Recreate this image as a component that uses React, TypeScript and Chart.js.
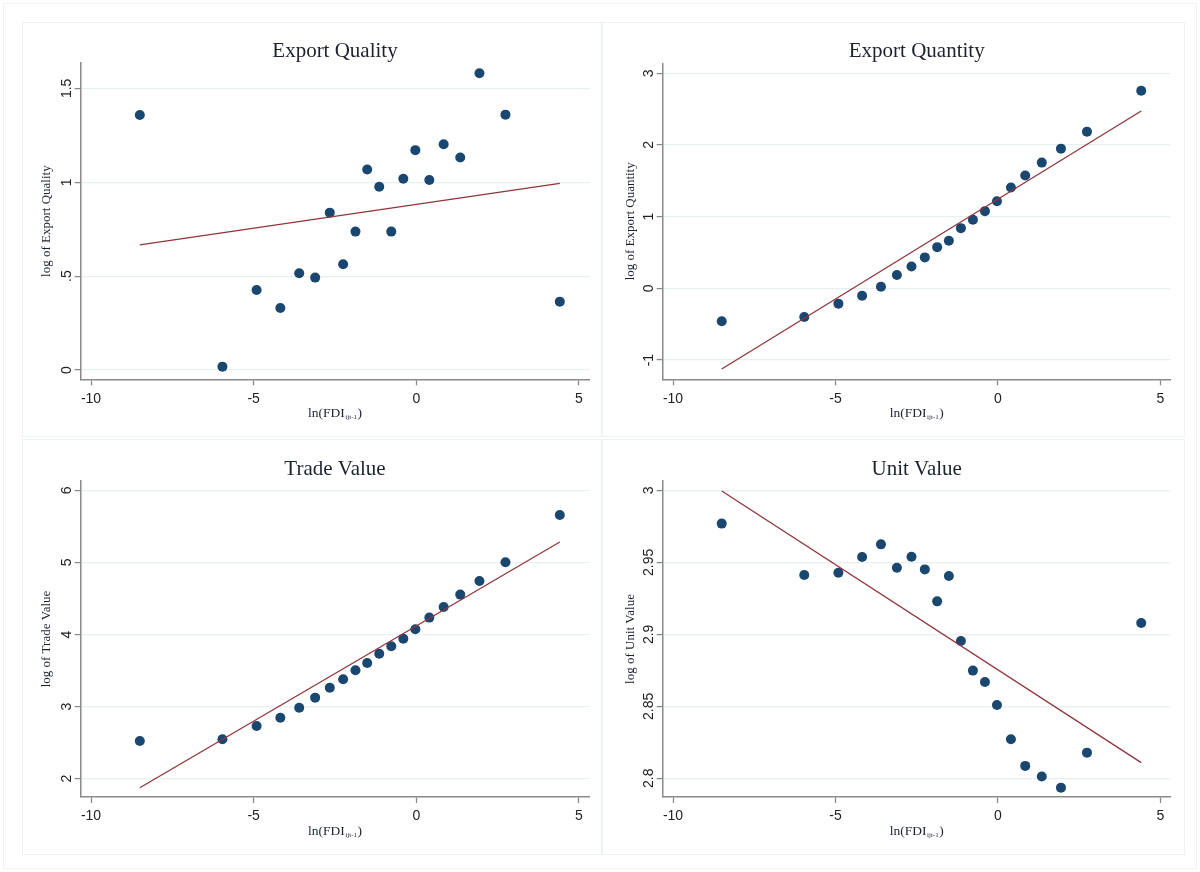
import React, { useEffect, useRef } from "react";
import { Chart, registerables } from "chart.js";

Chart.register(...registerables);

// ---------- data ----------
const fdiBins = [-8.5, -5.96, -4.91, -4.18, -3.6, -3.11, -2.66, -2.25, -1.87, -1.51, -1.14, -0.77, -0.4, -0.03, 0.4, 0.84, 1.35, 1.94, 2.74, 4.41];
const exportQuality = [1.358, 0.018, 0.426, 0.33, 0.515, 0.492, 0.838, 0.563, 0.737, 1.068, 0.976, 0.737, 1.019, 1.171, 1.012, 1.202, 1.132, 1.58, 1.36, 0.364];
const exportQuantity = [-0.459, -0.399, -0.213, -0.102, 0.023, 0.186, 0.306, 0.432, 0.575, 0.664, 0.84, 0.956, 1.077, 1.216, 1.406, 1.573, 1.754, 1.949, 2.186, 2.756];
const tradeValue = [2.522, 2.546, 2.731, 2.846, 2.985, 3.124, 3.262, 3.378, 3.503, 3.605, 3.734, 3.836, 3.942, 4.072, 4.234, 4.382, 4.553, 4.742, 5.001, 5.658];
const unitValue = [2.9769, 2.9412, 2.9428, 2.9537, 2.9625, 2.9463, 2.9539, 2.9451, 2.9229, 2.9405, 2.8954, 2.8748, 2.8669, 2.8509, 2.8271, 2.8086, 2.8012, 2.7935, 2.8178, 2.9079];

const fitX = [-8.5, 4.41];
const qualityFit = [0.666, 0.994];
const quantityFit = [-1.125, 2.473];
const tradeFit = [1.875, 5.283];
const unitFit = [2.9995, 2.8109];

const xTicks = [-10, -5, 0, 5];
const xTickLabels = ["-10", "-5", "0", "5"];
const qualityTicks = [0, 0.5, 1, 1.5];
const qualityTickLabels = ["0", ".5", "1", "1.5"];
const quantityTicks = [-1, 0, 1, 2, 3];
const quantityTickLabels = ["-1", "0", "1", "2", "3"];
const tradeTicks = [2, 3, 4, 5, 6];
const tradeTickLabels = ["2", "3", "4", "5", "6"];
const unitTicks = [2.8, 2.85, 2.9, 2.95, 3];
const unitTickLabels = ["2.8", "2.85", "2.9", "2.95", "3"];

const titles = ["Export Quality", "Export Quantity", "Trade Value", "Unit Value"];
const yTitles = ["log of Export Quality", "log of Export Quantity", "log of Trade Value", "log of Unit Value"];
const xTitleMain = "ln(FDI";
const xTitleSub = "ijt-1";
const xTitleEnd = ")";

// ---------- styles ----------
const NAVY = "#1a476f";
const MAROON = "#90353b";
const AXIS = "#8a8a8a";
const GRID = "#e6eff1";
const TEXT = "#1c2230";
const SERIF = '"Liberation Serif", "DejaVu Serif", serif';
const SANS = '"Liberation Sans", Arial, sans-serif';

const CW = 600;
const CH = 436;

type Panel = {
  left: number;
  top: number;
  plot: { l: number; r: number; t: number; b: number };
  yMin: number;
  yMax: number;
  yTicks: number[];
  yLabels: string[];
  values: number[];
  fit: number[];
  title: string;
  yTitle: string;
  yTitleX: number;
};

const panels: Panel[] = [
  { left: 0, top: 0, plot: { l: 80.7, r: 589.3, t: 63, b: 379.3 }, yMin: -0.0495, yMax: 1.635, yTicks: qualityTicks, yLabels: qualityTickLabels, values: exportQuality, fit: qualityFit, title: titles[0], yTitle: yTitles[0], yTitleX: 47 },
  { left: 600, top: 0, plot: { l: 62.7, r: 570.7, t: 63.3, b: 379.3 }, yMin: -1.268, yMax: 3.139, yTicks: quantityTicks, yLabels: quantityTickLabels, values: exportQuantity, fit: quantityFit, title: titles[1], yTitle: yTitles[1], yTitleX: 31 },
  { left: 0, top: 436, plot: { l: 80.7, r: 589.3, t: 45, b: 361 }, yMin: 1.746, yMax: 6.129, yTicks: tradeTicks, yLabels: tradeTickLabels, values: tradeValue, fit: tradeFit, title: titles[2], yTitle: yTitles[2], yTitleX: 47 },
  { left: 600, top: 436, plot: { l: 62.7, r: 570.7, t: 45, b: 361 }, yMin: 2.787, yMax: 3.0065, yTicks: unitTicks, yLabels: unitTickLabels, values: unitValue, fit: unitFit, title: titles[3], yTitle: yTitles[3], yTitleX: 31 },
];

const textPlugin = {
  id: "stataText",
  afterDraw(chart: any, _args: any, opts: any) {
    const { ctx, chartArea, scales } = chart;
    const xs = scales.x;
    const ys = scales.y;
    ctx.save();
    ctx.fillStyle = TEXT;

    // title
    ctx.font = `21px ${SERIF}`;
    ctx.textAlign = "center";
    ctx.textBaseline = "alphabetic";
    const cx = (chartArea.left + chartArea.right) / 2;
    ctx.fillText(opts.title, cx, chartArea.top - 6);

    // y tick labels (rotated)
    ctx.font = `14px ${SANS}`;
    ctx.fillStyle = "#222222";
    ys.ticks.forEach((t: any) => {
      const idx = opts.yTicks.indexOf(t.value);
      if (idx < 0) return;
      const y = ys.getPixelForValue(t.value);
      ctx.save();
      ctx.translate(chartArea.left - 15, y);
      ctx.rotate(-Math.PI / 2);
      ctx.textAlign = "center";
      ctx.textBaseline = "alphabetic";
      ctx.fillText(opts.yLabels[idx], 0, 5);
      ctx.restore();
    });

    // x tick labels
    ctx.textAlign = "center";
    xs.ticks.forEach((t: any) => {
      const idx = xTicks.indexOf(t.value);
      if (idx < 0) return;
      ctx.fillText(xTickLabels[idx], xs.getPixelForValue(t.value), chartArea.bottom + 23.4);
    });

    // y title
    ctx.fillStyle = TEXT;
    ctx.font = `13px ${SERIF}`;
    ctx.save();
    ctx.translate(opts.yTitleX, (chartArea.top + chartArea.bottom) / 2);
    ctx.rotate(-Math.PI / 2);
    ctx.textAlign = "center";
    ctx.fillText(opts.yTitle, 0, 3);
    ctx.restore();

    // x title with subscript
    const mainFont = `13.5px ${SERIF}`;
    const subFont = `7px ${SERIF}`;
    ctx.textAlign = "left";
    ctx.font = mainFont;
    const w1 = ctx.measureText(xTitleMain).width;
    const w3 = ctx.measureText(xTitleEnd).width;
    ctx.font = subFont;
    const w2 = ctx.measureText(xTitleSub).width + 1;
    const total = w1 + w2 + w3;
    const x0 = cx - total / 2;
    const by = chartArea.bottom + 38;
    ctx.font = mainFont;
    ctx.fillText(xTitleMain, x0, by);
    ctx.font = subFont;
    ctx.fillText(xTitleSub, x0 + w1 + 0.5, by + 2);
    ctx.font = mainFont;
    ctx.fillText(xTitleEnd, x0 + w1 + w2, by);
    ctx.restore();
  },
};

function PanelChart({ p }: { p: Panel }) {
  const ref = useRef<HTMLCanvasElement | null>(null);
  useEffect(() => {
    if (!ref.current) return;
    const chart = new Chart(ref.current, {
      type: "scatter",
      data: {
        datasets: [
          {
            type: "line",
            data: fitX.map((x, i) => ({ x, y: p.fit[i] })),
            borderColor: MAROON,
            borderWidth: 1.3,
            pointRadius: 0,
            fill: false,
            clip: false,
          } as any,
          {
            type: "scatter",
            data: fdiBins.map((x, i) => ({ x, y: p.values[i] })),
            pointRadius: 5,
            pointBackgroundColor: NAVY,
            pointBorderColor: NAVY,
            pointBorderWidth: 0,
            clip: false,
          } as any,
        ],
      },
      options: {
        responsive: false,
        animation: false,
        devicePixelRatio: 1,
        layout: { padding: { left: 0, top: p.plot.t, right: CW - p.plot.r, bottom: 0 } },
        plugins: {
          legend: { display: false },
          title: { display: false },
          tooltip: { enabled: false },
          stataText: {
            title: p.title,
            yTitle: p.yTitle,
            yTitleX: p.yTitleX,
            yTicks: p.yTicks,
            yLabels: p.yLabels,
          },
        } as any,
        scales: {
          x: {
            type: "linear",
            min: -10.317,
            max: 5.317,
            afterBuildTicks: (s: any) => {
              s.ticks = xTicks.map((v) => ({ value: v }));
            },
            afterFit: (s: any) => {
              s.height = CH - p.plot.b;
            },
            ticks: { display: false },
            grid: { drawOnChartArea: false, drawTicks: true, tickLength: 6, tickColor: AXIS, tickWidth: 1.3 },
            border: { display: true, color: AXIS, width: 1.5 },
          },
          y: {
            type: "linear",
            min: p.yMin,
            max: p.yMax,
            afterBuildTicks: (s: any) => {
              s.ticks = p.yTicks.map((v) => ({ value: v }));
            },
            afterFit: (s: any) => {
              s.width = p.plot.l;
            },
            ticks: { display: false },
            grid: { color: GRID, lineWidth: 1.2, drawTicks: true, tickLength: 6, tickColor: AXIS, tickWidth: 1.3 },
            border: { display: true, color: AXIS, width: 1.5 },
          },
        } as any,
      },
      plugins: [textPlugin as any],
    });
    return () => chart.destroy();
  }, [p]);
  return (
    <canvas
      ref={ref}
      width={CW}
      height={CH}
      style={{ position: "absolute", left: p.left, top: p.top, width: CW, height: CH }}
    />
  );
}

const frameBoxes = [
  { l: 3, t: 3, w: 1194, h: 866 },
  { l: 22, t: 22, w: 580, h: 415 },
  { l: 602, t: 22, w: 583, h: 415 },
  { l: 22, t: 439, w: 580, h: 416 },
  { l: 602, t: 439, w: 583, h: 416 },
];

export default function App() {
  return (
    <div style={{ position: "fixed", left: 0, top: 0, width: 1200, height: 872, background: "#ffffff", overflow: "hidden" }}>
      {frameBoxes.map((b, i) => (
        <div
          key={i}
          style={{ position: "absolute", left: b.l, top: b.t, width: b.w, height: b.h, border: "1px solid #edf2f4", boxSizing: "border-box" }}
        />
      ))}
      {panels.map((p, i) => (
        <PanelChart key={i} p={p} />
      ))}
    </div>
  );
}
